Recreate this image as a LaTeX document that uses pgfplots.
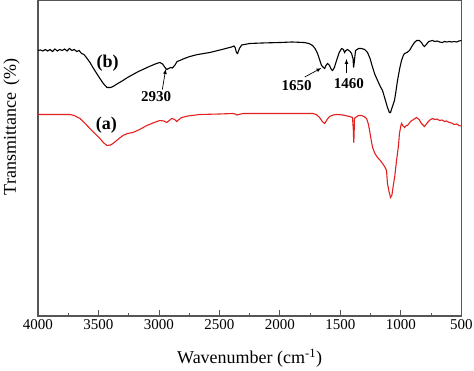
\documentclass[border=0pt]{standalone}
\usepackage{pgfplots}
\pgfplotsset{compat=1.18}
\usepackage{fontspec}
\setmainfont{Liberation Serif}
\definecolor{specred}{RGB}{228,32,30}
\definecolor{axgray}{RGB}{85,85,85}
\begin{document}
\begin{tikzpicture}[x=1pt,y=1pt]
\path[use as bounding box] (-38pt,-55pt) rectangle (436pt,316pt);
\begin{axis}[
  at={(0,0)}, anchor=south west,
  scale only axis, width=423.4pt, height=315.5pt,
  x dir=reverse, xmin=500, xmax=4000,
  y dir=reverse, ymin=0, ymax=315.5,
  xtick={500,1000,...,4000},
  minor x tick num=1,
  xtick pos=bottom, ytick=\empty,
  tick align=inside,
  major tick length=6pt, minor tick length=3pt,
  axis line style={axgray, line width=1.1pt},
  every tick/.style={axgray, line width=0.9pt},
  scaled x ticks=false,
  xticklabel style={font=\fontsize{15}{15}\selectfont, /pgf/number format/.cd, assume math mode=true, 1000 sep={}},
  xlabel={Wavenumber (cm\textsuperscript{-1})},
  ylabel={Transmittance\, (\%)},
  xlabel style={font=\fontsize{18}{18}\selectfont, at={(axis description cs:0.5,0)}, anchor=center, yshift=-42pt},
  ylabel style={font=\fontsize{18}{18}\selectfont, at={(axis description cs:0,0.6)}, anchor=center, yshift=26.5pt},
  clip=false,
]
\addplot[black, line width=1.1pt] coordinates {
(4000,50) (3980,49.5) (3960,50.5) (3940,49) (3920,50.5) (3900,49) (3880,51) (3860,48.5) (3840,50.5) (3820,49) (3800,50) (3780,48.5) (3760,50.5) (3740,48) (3720,50) (3700,49) (3680,51) (3660,50) (3640,53) (3620,54) (3600,57) (3570,62) (3546,67) (3520,72) (3488,78) (3460,83) (3430,87) (3400,87) (3380,86) (3340,83) (3298,80) (3260,77) (3215,74) (3170,71) (3133,69) (3080,66) (3020,63) (2993,62) (2970,63.5) (2950,67) (2935,69) (2920,68) (2905,67) (2890,67.5) (2870,65) (2850,61) (2828,60) (2790,58) (2745,56) (2680,54) (2580,52) (2480,49) (2400,46.5) (2380,45.5) (2370,47) (2360,52) (2350,53) (2335,48) (2316,44.5) (2250,43) (2150,42.5) (2000,42) (1900,41.5) (1800,42) (1760,43) (1730,45) (1710,48) (1689,53) (1670,60) (1656,65) (1640,67) (1630,68) (1620,65) (1606,63) (1590,65) (1575,69) (1565,70) (1550,67) (1532,60) (1510,52) (1490,48) (1475,49) (1466,52) (1455,50) (1441,49) (1420,51) (1408,53) (1396,58) (1391,67) (1386,62) (1375,50) (1350,48) (1326,48) (1300,49) (1276,52) (1255,58) (1234,67) (1215,74) (1193,80) (1170,86) (1152,90) (1130,99) (1111,107) (1095,112) (1086,112) (1070,106) (1053,100) (1040,90) (1028,80) (1010,68) (995,60) (980,55) (970,53) (950,52) (929,50) (910,46) (888,42) (870,40) (847,40) (830,42) (815,45) (805,46) (790,44) (770,41) (739,40) (720,41) (700,40.5) (680,41.5) (656,42) (640,41) (620,41.5) (600,41) (580,41.5) (560,41) (540,41.5) (520,40.5) (500,40)
};
\addplot[specred, line width=1.1pt] coordinates {
(4000,114) (3900,114) (3800,114) (3736,114) (3700,115) (3653,118) (3610,123) (3571,128) (3530,133) (3488,138) (3460,142) (3430,145) (3400,144.5) (3380,143) (3340,139) (3298,135) (3260,133) (3215,132) (3160,129) (3100,125) (3040,122) (2993,120) (2960,120.5) (2935,122) (2915,120) (2894,118) (2870,119) (2853,121) (2835,119) (2811,117) (2760,115.5) (2663,114) (2500,113.5) (2390,113) (2370,113.5) (2357,114.5) (2340,114) (2307,113) (2100,113) (1900,113) (1730,113) (1700,114) (1672,117) (1650,121) (1630,123) (1610,119) (1590,116) (1560,114.5) (1532,114) (1480,114.5) (1424,116) (1400,117) (1393,130) (1390,142) (1387,135) (1384,118) (1375,117) (1350,115) (1326,115) (1305,116) (1284,118) (1270,123) (1259,130) (1245,140) (1234,147) (1215,153) (1193,157) (1170,160) (1152,163) (1135,166) (1119,170) (1111,183) (1100,190) (1086,197) (1075,195) (1069,190) (1050,175) (1036,160) (1020,145) (1012,133) (1000,125) (995,123) (985,125) (970,127) (955,125) (946,125) (920,121) (895,119) (871,117) (850,119) (830,123) (805,126) (780,122) (760,119.5) (739,118) (720,119) (700,118.5) (680,120) (660,119.5) (640,121) (624,120.5) (600,122) (580,122.5) (560,124) (540,123.5) (520,125) (500,125.5)
};
\node[font=\fontsize{18}{18}\selectfont\bfseries] at (axis cs:3425,63) {(b)};
\node[font=\fontsize{18}{18}\selectfont\bfseries] at (axis cs:3434,125) {(a)};
\node[font=\fontsize{15}{15}\selectfont\bfseries] at (axis cs:3023,96) {2930};
\node[font=\fontsize{15}{15}\selectfont\bfseries] at (axis cs:1862,85) {1650};
\node[font=\fontsize{15}{15}\selectfont\bfseries] at (axis cs:1430,83) {1460};
\draw[-latex, black, line width=0.7pt] (axis cs:2972,89) -- (axis cs:2944,68.5);
\draw[-latex, black, line width=0.7pt] (axis cs:1795,76.5) -- (axis cs:1657,67.5);
\draw[-latex, black, line width=0.7pt] (axis cs:1450,73) -- (axis cs:1450,58.5);
\end{axis}
\end{tikzpicture}
\end{document}
